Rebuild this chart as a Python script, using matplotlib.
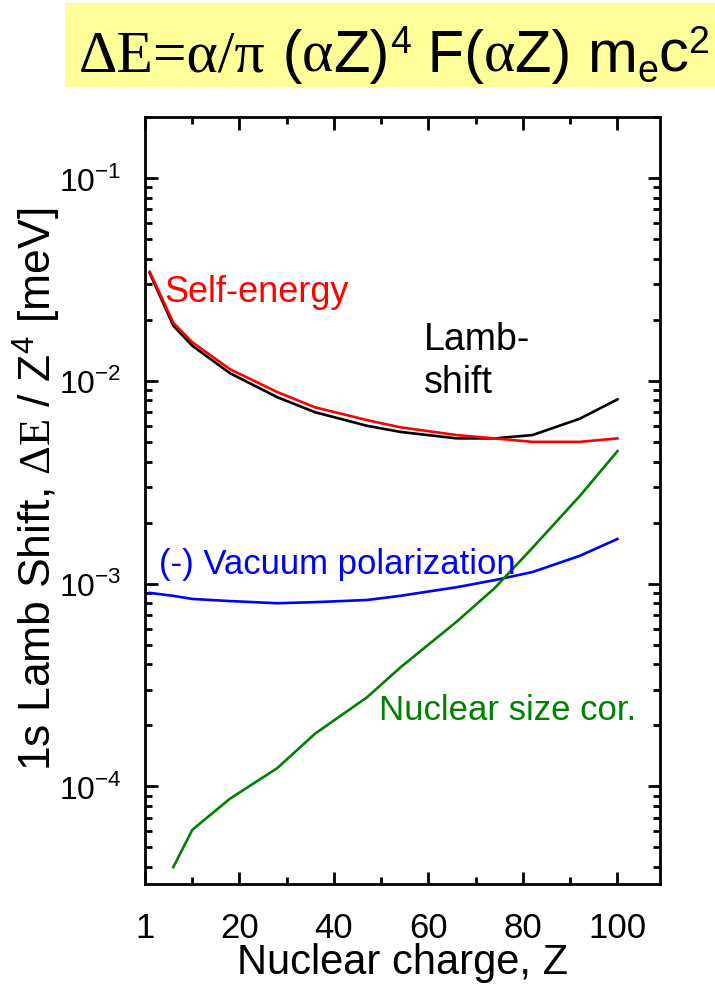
import numpy as np
import matplotlib
matplotlib.use("Agg")
import matplotlib.pyplot as plt
from matplotlib.patches import Rectangle
from matplotlib.ticker import FixedLocator, FixedFormatter, LogLocator, NullFormatter

plt.rcParams['font.family'] = ['Liberation Sans', 'DejaVu Sans']
plt.rcParams['mathtext.fontset'] = 'custom'
plt.rcParams['mathtext.rm'] = 'Liberation Serif'
plt.rcParams['mathtext.sf'] = 'Liberation Sans'

# Nuclear charge grid
Z = [1, 6, 10, 18, 28, 36, 47, 54, 66, 74, 82, 92, 100]

self_energy = [0.0345, 0.0193, 0.0155, 0.0114, 0.0088, 0.0074, 0.0064, 0.0059,
               0.0054, 0.0052, 0.0050, 0.0050, 0.0052]
lamb_shift = [0.0340, 0.0187, 0.0149, 0.0109, 0.0083, 0.0070, 0.0060, 0.0056,
              0.0052, 0.0052, 0.0054, 0.0065, 0.0081]
vac_pol = [0.00090, 0.00087, 0.00084, 0.00082, 0.00080, 0.00081, 0.00083, 0.00087,
           0.00096, 0.00104, 0.00114, 0.00137, 0.00166]

Z_nuc = [6, 10, 18, 28, 36, 47, 54, 66, 74, 82, 92, 100]
nuc_size = [4.0e-5, 6.1e-5, 8.7e-5, 1.23e-4, 1.82e-4, 2.75e-4, 3.85e-4, 6.5e-4,
            9.5e-4, 1.50e-3, 2.7e-3, 4.5e-3]

xticks = [0, 20, 40, 60, 80, 100]
xtick_labels = ['1', '20', '40', '60', '80', '100']
yticks = [1e-4, 1e-3, 1e-2, 1e-1]
ytick_labels = ['10$^{\\mathsf{-4}}$', '10$^{\\mathsf{-3}}$',
                '10$^{\\mathsf{-2}}$', '10$^{\\mathsf{-1}}$']

W, H = 715, 991
fig = plt.figure(figsize=(W / 100, H / 100), dpi=100)

# yellow title box
fig.patches.append(Rectangle((65 / W, 1 - 87 / H), 650 / W, 84 / H,
                             transform=fig.transFigure, facecolor='#ffff99',
                             edgecolor='none', zorder=0))

# title built from pieces: (text, family, size, vertical offset in px)
serif, sans = 'Liberation Serif', 'Liberation Sans'
pieces = [("\u0394E=\u03b1/\u03c0", serif, 43, 0),
          (" (", sans, 43, 0), ("\u03b1", serif, 43, 0), ("Z)", sans, 43, 0),
          ("4", sans, 27, 19),
          (" F(", sans, 43, 0), ("\u03b1", serif, 43, 0), ("Z) m", sans, 43, 0),
          ("e", sans, 27, -10), ("c", sans, 43, 0), ("2", sans, 27, 19)]
renderer = fig.canvas.get_renderer()
x = 79
baseline = 72
for s, fam, size, dy in pieces:
    t = fig.text(x / W, 1 - (baseline - dy) / H, s, family=fam, fontsize=size,
                 va='baseline', ha='left')
    x += t.get_window_extent(renderer).width

ax = fig.add_axes([145 / W, 1 - 884 / H, 515 / W, 767 / H])
ax.semilogy(Z, lamb_shift, color='black', lw=1.9)
ax.semilogy(Z, self_energy, color='#ff0000', lw=1.9)
ax.semilogy(Z, vac_pol, color='#0000ff', lw=1.9)
ax.semilogy(Z_nuc, nuc_size, color='#008000', lw=1.9)

ax.set_xlim(0, 109)
ax.set_ylim(3.3e-5, 0.2)

ax.xaxis.set_major_locator(FixedLocator(xticks))
ax.xaxis.set_major_formatter(FixedFormatter(xtick_labels))
ax.xaxis.set_minor_locator(FixedLocator([10, 30, 50, 70, 90]))
ax.yaxis.set_major_locator(FixedLocator(yticks))
ax.yaxis.set_major_formatter(FixedFormatter(ytick_labels))
ax.yaxis.set_minor_locator(LogLocator(base=10, subs=np.arange(2, 10), numticks=20))
ax.yaxis.set_minor_formatter(NullFormatter())

ax.tick_params(which='both', direction='in', top=True, right=True, width=2)
ax.tick_params(which='major', length=9)
ax.tick_params(axis='x', which='major', pad=20, labelsize=25)
ax.tick_params(axis='y', which='major', pad=17, labelsize=23)
ax.tick_params(which='minor', length=5)
for sp in ax.spines.values():
    sp.set_linewidth(2)

ax.set_xlabel("Nuclear charge, Z", fontsize=30, labelpad=-1)
ax.set_ylabel(r"1s Lamb Shift, $\Delta\mathrm{E}$ / Z$^{\mathsf{4}}$ [meV]",
              fontsize=32)
ax.yaxis.set_label_coords(-0.16, 0.515)

ax.text(4.2, 0.0273, "Self-energy", color='#ff0000', fontsize=26, va='center')
ax.text(59, 0.0124, "Lamb-\nshift", color='black', fontsize=27, va='center',
        linespacing=1.25)
ax.text(3.0, 0.00124, "(-) Vacuum polarization", color='#0000ff', fontsize=25,
        va='center')
ax.text(49.5, 2.38e-4, "Nuclear size cor.", color='#008000', fontsize=25,
        va='center')

fig.savefig("out.png", dpi=100)
